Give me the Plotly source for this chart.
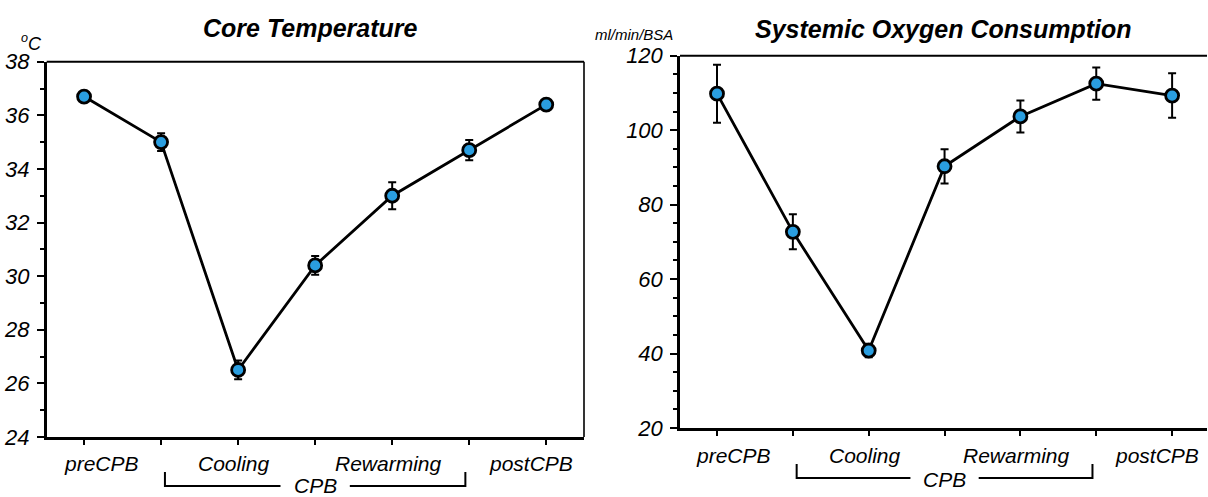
import plotly.graph_objects as go

# Seven measurement time points per panel (mean ± SEM)
timepoints = [0, 1, 2, 3, 4, 5, 6]

core_temp = [36.7, 35.0, 26.5, 30.4, 33.0, 34.7, 36.4]
core_temp_err = [0.15, 0.33, 0.35, 0.35, 0.5, 0.38, 0.2]

vo2 = [109.8, 72.7, 40.8, 90.3, 103.7, 112.5, 109.3]
vo2_err = [7.8, 4.7, 1.8, 4.6, 4.3, 4.3, 6.0]

temp_ticks = [24, 26, 28, 30, 32, 34, 36, 38]
vo2_ticks = [20, 40, 60, 80, 100, 120]

phase_labels = ["preCPB", "Cooling", "Rewarming", "postCPB"]
bypass_label = "CPB"
titles = ["Core Temperature", "Systemic Oxygen Consumption"]
units = ["<sup>o</sup>C", "ml/min/BSA"]

W, H = 1208, 497
FONT = "Liberation Sans, Arial, sans-serif"
BLUE = "#2a9ee0"


def px(v):
    return v / W


def py(v):
    return 1 - v / H


def series(y, err, xa, ya):
    return go.Scatter(
        x=timepoints, y=y, xaxis=xa, yaxis=ya,
        mode="lines+markers",
        line=dict(color="black", width=2.8),
        marker=dict(size=13, color=BLUE, line=dict(color="black", width=2.8)),
        error_y=dict(type="data", array=err, color="black", thickness=2, width=4),
        showlegend=False, cliponaxis=False,
    )


fig = go.Figure([
    series(core_temp, core_temp_err, "x", "y"),
    series(vo2, vo2_err, "x2", "y2"),
])

xcommon = dict(
    tickvals=timepoints, showticklabels=False, ticks="outside", ticklen=5,
    tickwidth=2, tickcolor="black", showline=True, linewidth=2.5,
    linecolor="black", showgrid=False, zeroline=False, automargin=False,
)
ycommon = dict(
    ticks="outside", ticklen=7, tickwidth=2, tickcolor="black",
    showline=True, linewidth=2.5, linecolor="black", showgrid=False,
    zeroline=False, automargin=False, ticklabelstandoff=3,
    tickfont=dict(family=FONT, size=22, color="black", style="italic"),
)


def italic(vals):
    return [f"<i>{v}</i>" for v in vals]


fig.update_layout(
    width=W, height=H, margin=dict(l=0, r=0, t=0, b=0, pad=0, autoexpand=False),
    paper_bgcolor="white", plot_bgcolor="white",
    xaxis=dict(domain=[px(46.7), px(584)], range=[-0.485, 6.49], **xcommon),
    yaxis=dict(domain=[py(437), py(61.7)], range=[24, 38],
               tickvals=temp_ticks, ticktext=italic(temp_ticks),
               minor=dict(dtick=1, ticks="outside", ticklen=4, tickwidth=1.5,
                          tickcolor="black"), **ycommon),
    xaxis2=dict(domain=[px(680), px(1207)], range=[-0.488, 6.46],
                anchor="y2", **xcommon),
    yaxis2=dict(domain=[py(428), py(55.7)], range=[20, 120],
                tickvals=vo2_ticks, ticktext=italic(vo2_ticks),
                anchor="x2",
                minor=dict(dtick=5, ticks="outside", ticklen=4, tickwidth=1.5,
                           tickcolor="black"), **ycommon),
)

shapes = []
annotations = []

# Box borders: top for both panels, right side for the left panel
for xa, ya, right in (("x", "y", True), ("x2", "y2", False)):
    shapes.append(dict(type="line", xref=f"{xa} domain", yref=f"{ya} domain",
                       x0=0, x1=1, y0=1, y1=1, line=dict(color="black", width=2)))
    if right:
        shapes.append(dict(type="line", xref=f"{xa} domain", yref=f"{ya} domain",
                           x0=1, x1=1, y0=0, y1=1, line=dict(color="black", width=1.6)))

phase_x = [0.22, 1.95, 3.95, 5.8]
panels = [
    # xref, label row y, CPB y, bracket line y, bracket top y
    ("x", 463, 485, 486, 472),
    ("x2", 455, 479, 478, 464),
]
for xa, lab_y, cpb_y, line_y, top_y in panels:
    for name, xpos in zip(phase_labels, phase_x):
        annotations.append(dict(
            x=xpos, y=py(lab_y), xref=xa, yref="paper", text=f"<i>{name}</i>",
            showarrow=False, xanchor="center", yanchor="middle",
            font=dict(family=FONT, size=21, color="black")))
    annotations.append(dict(
        x=3.0, y=py(cpb_y), xref=xa, yref="paper", text=f"<i>{bypass_label}</i>",
        showarrow=False, xanchor="center", yanchor="middle",
        font=dict(family=FONT, size=21, color="black")))
    yl, yt = py(line_y), py(top_y)
    shapes.append(dict(type="path", xref=xa, yref="paper",
                       path=f"M 1.05 {yt} L 1.05 {yl} L 2.55 {yl}",
                       line=dict(color="black", width=2)))
    shapes.append(dict(type="path", xref=xa, yref="paper",
                       path=f"M 3.45 {yl} L 4.95 {yl} L 4.95 {yt}",
                       line=dict(color="black", width=2)))

# Panel titles
for text, cx, cy in ((titles[0], 310, 28), (titles[1], 943, 29)):
    annotations.append(dict(
        x=px(cx), y=py(cy), xref="paper", yref="paper",
        text=f"<b><i>{text}</i></b>", showarrow=False,
        xanchor="center", yanchor="middle",
        font=dict(family=FONT, size=25, color="black")))

# Unit labels above the y axes
annotations.append(dict(x=px(31), y=py(42), xref="paper", yref="paper",
                        text=f"<i>{units[0]}</i>", showarrow=False,
                        xanchor="center", yanchor="middle",
                        font=dict(family=FONT, size=18, color="black")))
annotations.append(dict(x=px(634), y=py(34), xref="paper", yref="paper",
                        text=f"<i>{units[1]}</i>", showarrow=False,
                        xanchor="center", yanchor="middle",
                        font=dict(family=FONT, size=15, color="black")))

fig.update_layout(shapes=shapes, annotations=annotations)
fig.write_html("out.html")
